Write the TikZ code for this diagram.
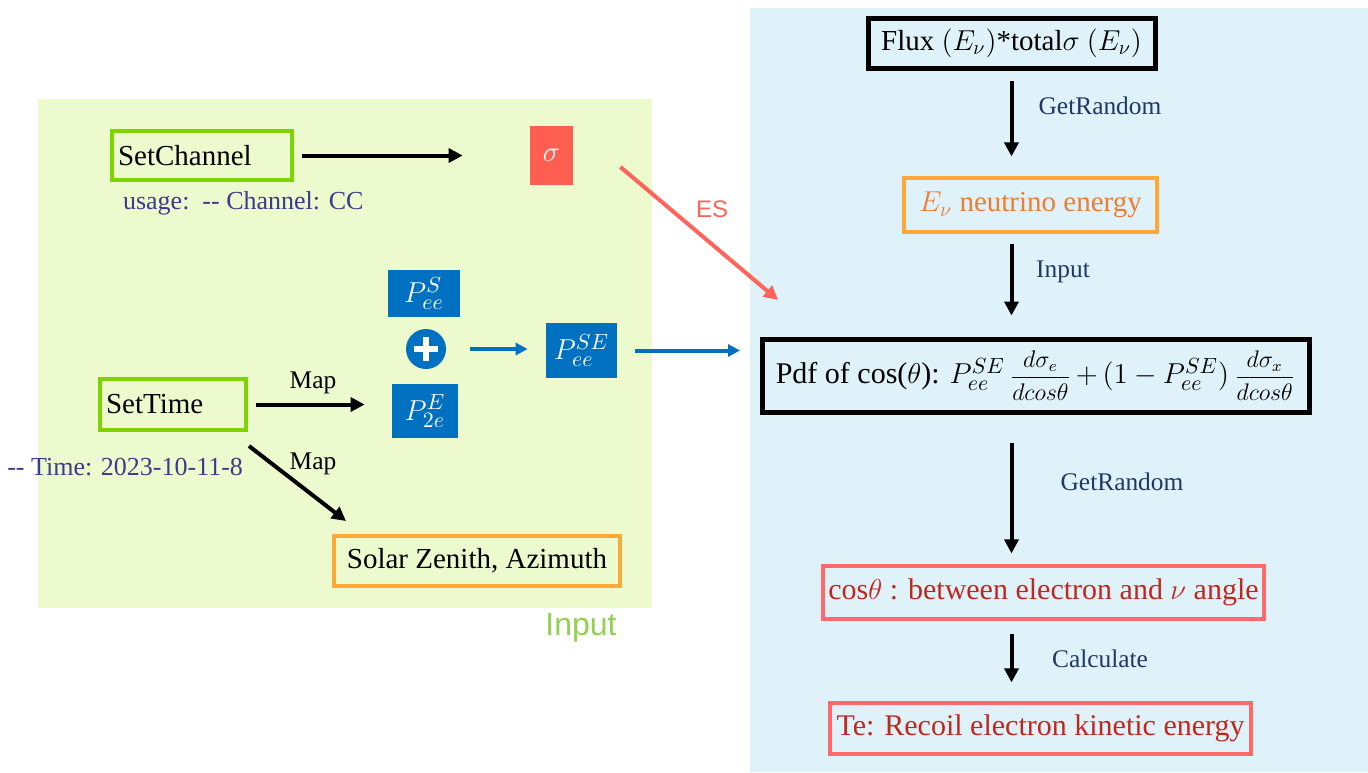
\documentclass[tikz,border=0pt]{standalone}
\usepackage{fontspec}
\setmainfont{Liberation Serif}
\setsansfont{Liberation Sans}
\usetikzlibrary{arrows.meta,calc}
\definecolor{gbg}{RGB}{236,250,205}
\definecolor{bbg}{RGB}{223,242,249}
\definecolor{gborder}{RGB}{125,212,0}
\definecolor{inputc}{RGB}{146,208,80}
\definecolor{pblue}{RGB}{0,112,192}
\definecolor{sigred}{RGB}{255,95,80}
\definecolor{esred}{RGB}{255,100,90}
\definecolor{orb}{RGB}{255,168,55}
\definecolor{ortext}{RGB}{237,125,49}
\definecolor{redb}{RGB}{255,105,105}
\definecolor{redtext}{RGB}{192,40,30}
\definecolor{navy}{RGB}{31,56,100}
\definecolor{usagec}{RGB}{60,60,140}
\newcommand\mybig{\fontsize{14.5}{17}\selectfont}
\newcommand\mymid{\fontsize{13}{15}\selectfont}
\newcommand\myfrac[2]{{\fontsize{11.5}{13}\selectfont$\displaystyle\frac{#1}{#2}$}}
\begin{document}
\begin{tikzpicture}[x=0.5pt,y=-0.5pt,
  box/.style={draw, line width=2pt, inner sep=0pt, font=\mybig},
  gbox/.style={box, draw=gborder},
  blackbox/.style={box, draw=black, line width=2.5pt},
  obox/.style={box, draw=orb, line width=1.6pt},
  rbox/.style={box, draw=redb, line width=1.6pt, text=redtext, font=\fontsize{15}{17}\selectfont},
  pbox/.style={fill=pblue, text=white, inner sep=0pt, font=\fontsize{15}{17}\selectfont},
  blk/.style={draw=black, line width=2pt, -{Triangle[length=7pt,width=7pt]}},
  bluearr/.style={draw=pblue, line width=2pt, -{Triangle[length=6pt,width=6pt]}},
  esarr/.style={draw=esred, line width=2pt, -{Triangle[length=7pt,width=7pt]}},
  lab/.style={font=\fontsize{12.7}{14}\selectfont},
  nlab/.style={font=\fontsize{12.7}{14}\selectfont, text=navy},
]
\useasboundingbox (0,0) rectangle (1368,772);
\fill[white] (0,0) rectangle (1368,772);
% backgrounds
\fill[gbg] (38,99) rectangle (652,608);
\fill[bbg] (750,8) rectangle (1368,772);
\node[font=\sffamily\fontsize{16}{18}\selectfont, text=inputc] (inputlab) at (581,628) {Input};

% left part
\node[gbox, text width=84pt, inner xsep=3pt, align=left, minimum height=24.5pt] (setch) at (202,155.5) {SetChannel};
\node[font=\mymid, text=usagec, anchor=west] (usage) at (116,203) {usage:\ \ -{}- Channel: CC};
\node[fill=sigred, text=white, inner sep=0pt, minimum width=21.5pt, minimum height=29.5pt, font=\fontsize{15}{17}\selectfont] (sigma) at (551.5,155.5) {$\sigma$};
\draw[blk, shorten <=4pt, shorten >=33.5pt] (setch.east) -- (sigma.west);

\coordinate (esE) at (778,300);
\draw[esarr] ($(sigma.east)+(47,11.5)$) -- (esE);
\node[font=\sffamily\fontsize{12}{14}\selectfont, text=esred] (es) at (712,209) {ES};

\node[pbox, minimum width=36pt, minimum height=23.5pt] (psee) at (424,293.5) {$P^{S}_{ee}$};
\node[circle, fill=pblue, minimum size=20pt, inner sep=0pt] (plus) at (426,349) {};
\draw[white, line width=2.6pt] ($(plus.center)+(-12,0)$) -- ($(plus.center)+(12,0)$);
\draw[white, line width=2.6pt] ($(plus.center)+(0,-12)$) -- ($(plus.center)+(0,12)$);
\node[pbox, minimum width=33pt, minimum height=27pt] (p2e) at (425,411) {$P^{E}_{2e}$};
\node[pbox, minimum width=35.5pt, minimum height=27.5pt] (pse) at (581.5,350.5) {$P^{SE}_{ee}$};
\draw[bluearr, shorten <=12pt, shorten >=9pt] (plus.east) -- (plus.east -| pse.west);

\node[gbox, text width=67pt, inner xsep=3pt, align=left, minimum height=25.5pt] (settime) at (173,404.5) {SetTime};
\node[font=\mymid, text=usagec, anchor=east] (timelab) at (250,467) {-{}- Time: 2023-10-11-8};
\draw[blk, shorten <=4pt, shorten >=13.5pt] (settime.east) -- (settime.east -| p2e.west);
\node[lab] (map1) at (313,383) {Map};

\node[obox, draw=orb, line width=2pt, minimum width=143pt, minimum height=25pt] (solar) at (477,561) {Solar Zenith, Azimuth};
\draw[blk] ($(settime.south east)+(1,14)$) -- ($(solar.north west)+(14,-13)$);
\node[lab] (map2) at (313,464) {Map};

\draw[bluearr, shorten <=9pt, shorten >=11pt] (pse.east) -- (pse.east -| 762,0);

% right part
\node[blackbox, minimum width=143.5pt, minimum height=25pt] (flux) at (1011.5,43) {Flux $(E_\nu)$*total$\sigma$ $(E_\nu)$};
\node[obox, text=ortext, minimum width=126.5pt, minimum height=27pt] (enu) at (1030.5,205) {$E_\nu$ neutrino energy};
\node[blackbox, minimum width=273.5pt, minimum height=36.5pt, font=\fontsize{15}{17}\selectfont] (pdf) at (1035.5,375.5)
  {Pdf of cos($\theta$): $P^{SE}_{ee}$\,\myfrac{d\sigma_e}{dcos\theta}\,$+\,(1-P^{SE}_{ee})$\,\myfrac{d\sigma_x}{dcos\theta}};
\node[rbox, minimum width=220.5pt, minimum height=26.5pt] (cos) at (1043.5,592.5) {cos$\theta$ : between electron and $\nu$ angle};
\node[rbox, minimum width=210.5pt, minimum height=25.5pt] (te) at (1040.5,728.5) {Te: Recoil electron kinetic energy};

\draw[blk, shorten <=5pt, shorten >=10pt] (flux.south) -- (flux.south |- enu.north);
\draw[blk, shorten <=5pt, shorten >=10.5pt] (flux.south |- enu.south) -- (flux.south |- pdf.north);
\draw[blk, shorten <=14pt, shorten >=5.5pt] (flux.south |- pdf.south) -- (flux.south |- cos.north);
\draw[blk, shorten <=6.5pt, shorten >=9.5pt] (flux.south |- cos.south) -- (flux.south |- te.north);

\node[nlab] (gr1) at (1100,106) {GetRandom};
\node[nlab] (inp) at (1063,272) {Input};
\node[nlab] (gr2) at (1122,482) {GetRandom};
\node[nlab] (calc) at (1100,659) {Calculate};
\end{tikzpicture}
\end{document}
